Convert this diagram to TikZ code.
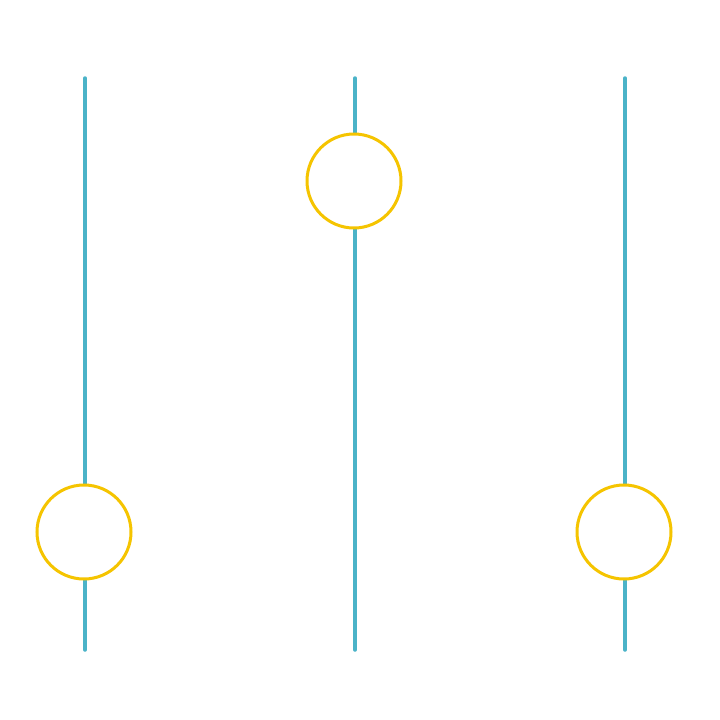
\documentclass[tikz,border=0pt]{standalone}
\definecolor{teal}{HTML}{4BB3C8}
\definecolor{gold}{HTML}{F5C400}
\begin{document}
\begin{tikzpicture}[x=1pt,y=-1pt,
  rail/.style={draw=teal,line width=3.5pt,line cap=round},
  knob/.style={circle,draw=gold,fill=white,line width=3pt,minimum size=94pt,inner sep=0pt}]
\useasboundingbox (0,0) rectangle (720,720);
\coordinate (t1) at (85,78); \coordinate (b1) at (85,650);
\coordinate (t2) at (355,78); \coordinate (b2) at (355,650);
\coordinate (t3) at (625,78); \coordinate (b3) at (625,650);
\draw[rail] (t1) -- (b1);
\draw[rail] (t2) -- (b2);
\draw[rail] (t3) -- (b3);
\node[knob] (k1) at (84,532) {};
\node[knob] (k2) at (354,181) {};
\node[knob] (k3) at (624,532) {};
\end{tikzpicture}
\end{document}
